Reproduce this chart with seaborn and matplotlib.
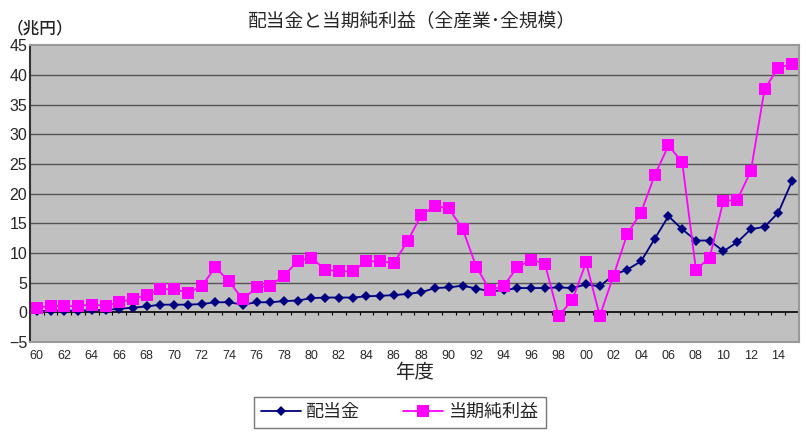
import matplotlib
matplotlib.use("Agg")
import matplotlib.pyplot as plt
from matplotlib.lines import Line2D
import seaborn as sns
import pandas as pd
import numpy as np

# ── Data (兆円) ──────────────────────────────────────
years = [f"{y % 100:02d}" for y in range(1960, 2016)]
dividends = [0.2, 0.3, 0.3, 0.3, 0.4, 0.4, 0.6, 0.8, 1.0, 1.3,
             1.3, 1.3, 1.4, 1.7, 1.7, 1.3, 1.7, 1.7, 1.9, 2.0,
             2.4, 2.5, 2.5, 2.5, 2.7, 2.8, 2.9, 3.1, 3.4, 4.1,
             4.2, 4.5, 4.0, 3.6, 3.7, 4.1, 4.1, 4.1, 4.2, 4.1,
             4.7, 4.4, 6.3, 7.2, 8.6, 12.4, 16.2, 14.0, 12.1, 12.1,
             10.3, 11.8, 14.0, 14.4, 16.8, 22.1]
net_income = [0.75, 1.1, 1.0, 1.1, 1.3, 1.1, 1.7, 2.3, 2.9, 3.9,
              3.9, 3.3, 4.4, 7.6, 5.2, 2.2, 4.2, 4.5, 6.2, 8.6,
              9.2, 7.2, 6.9, 6.9, 8.6, 8.6, 8.3, 12.0, 16.4, 17.9,
              17.5, 14.1, 7.7, 3.7, 4.5, 7.6, 8.9, 8.2, -0.6, 2.1,
              8.4, -0.6, 6.2, 13.2, 16.8, 23.1, 28.1, 25.3, 7.2, 9.2,
              18.8, 18.9, 23.8, 37.6, 41.2, 41.8]
series_names = ["配当金", "当期純利益"]
colors = ["#000080", "#FF00FF"]
yticks = list(range(-5, 50, 5))

df = pd.DataFrame({
    "idx": list(range(len(years))) * 2,
    "value": dividends + net_income,
    "series": [series_names[0]] * len(years) + [series_names[1]] * len(years),
})

sns.set_style("white")
plt.rcParams['font.family'] = ['Liberation Sans', 'Noto Sans CJK JP', 'DejaVu Sans']

fig = plt.figure(figsize=(8.06, 4.38), dpi=100)
ax = fig.add_axes([0.0372, 0.219, 0.954, 0.678])

sns.lineplot(data=df, x="idx", y="value", hue="series", style="series",
             palette=colors, markers=["D", "s"], dashes=False,
             linewidth=1.3, markeredgewidth=0,
             ax=ax, legend=False, zorder=3)
# diamonds smaller than squares
for line, ms in zip(ax.get_lines(), [5.5, 8]):
    line.set_markersize(ms)

ax.set_facecolor("#C0C0C0")
ax.set_xlim(-0.5, len(years) - 0.5)
ax.set_ylim(-5, 45)
ax.set_yticks(yticks)
ax.set_yticklabels([str(v).replace("-", "\u2212") for v in yticks], fontsize=11.5)
for v in yticks:
    if v not in (0, -5, 45):
        ax.axhline(v, color="#555555", linewidth=1.0, zorder=1)
ax.axhline(0, color="black", linewidth=1.2, zorder=2)
# small category ticks on the zero line
ax.vlines(np.arange(len(years) + 1) - 0.5, -0.5, 0, color="black", linewidth=0.8, zorder=2)

ax.set_xticks(range(0, len(years), 2))
ax.set_xticklabels(years[::2], fontsize=9)
ax.tick_params(axis="x", length=0, pad=6)
ax.tick_params(axis="y", length=0, pad=2)
ax.set_xlabel("年度", fontsize=14, labelpad=1)
ax.set_ylabel("")

for side in ["top", "right", "bottom"]:
    ax.spines[side].set_color("#999999")
    ax.spines[side].set_linewidth(1.5)
ax.spines["left"].set_color("#333333")
ax.spines["left"].set_linewidth(1.5)

fig.text(0.511, 0.95, "配当金と当期純利益（全産業･全規模）", ha="center", va="center", fontsize=13.5)
fig.text(0.008, 0.936, "（兆円）", ha="left", va="center", fontsize=12, fontweight="medium", color="#222222")

handles = [Line2D([], [], color=colors[0], marker="D", markersize=5.5, linewidth=1.3, markeredgewidth=0),
           Line2D([], [], color=colors[1], marker="s", markersize=8, linewidth=1.3, markeredgewidth=0)]
fig.legend(handles, series_names, loc="center", bbox_to_anchor=(0.496, 0.058),
           ncol=2, fontsize=13, frameon=True, fancybox=False, edgecolor="#555555",
           handlelength=2.2, handletextpad=0.3, columnspacing=2.4, borderpad=0.4,
           borderaxespad=0)

fig.savefig("out.png", dpi=100)
